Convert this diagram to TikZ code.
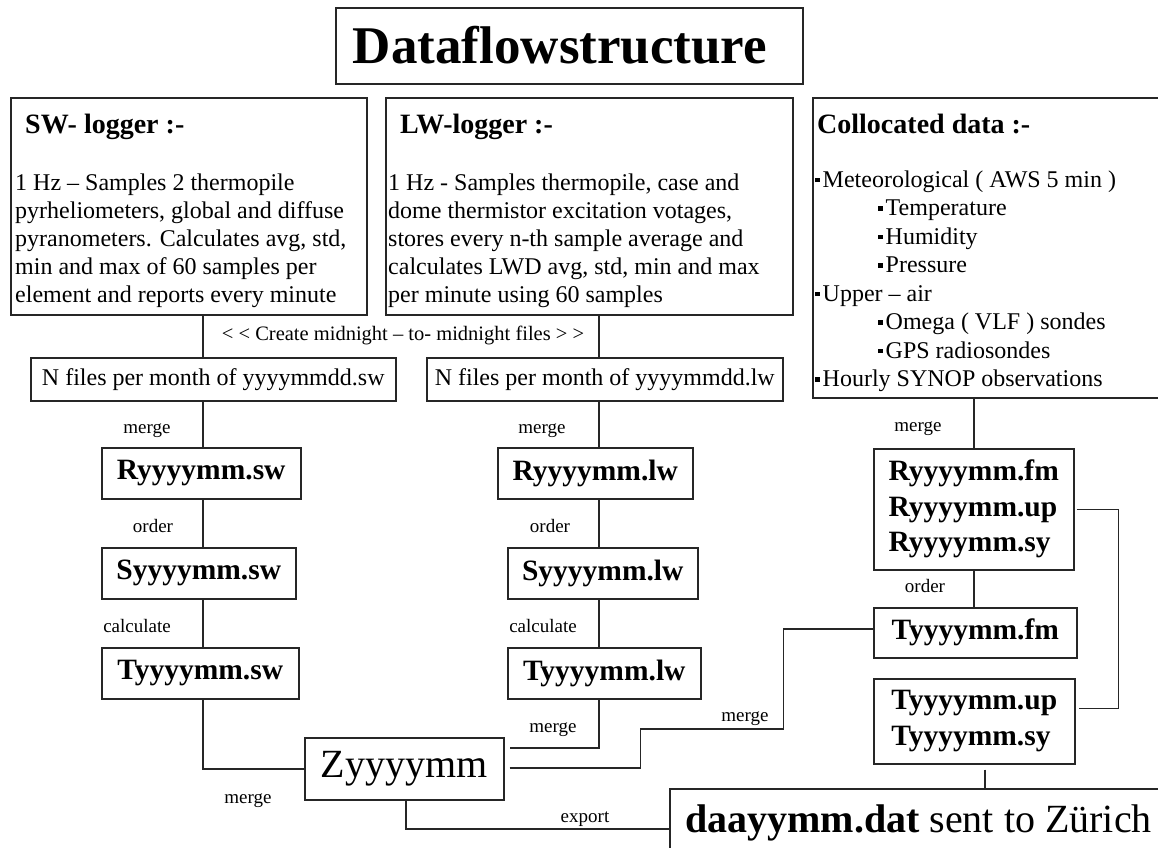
\documentclass[tikz,border=0pt]{standalone}
\usepackage{fontspec}
\setmainfont{Liberation Serif}
\usetikzlibrary{calc}
\newcommand\sqbul{\rule[5pt]{4.5pt}{4.5pt}\hspace{3pt}}
\begin{document}
\begin{tikzpicture}[x=1pt,y=-1pt,
 box/.style={draw=black!85, line width=1.5pt, inner sep=0, anchor=north west},
 conn/.style={draw=black!85, line width=1.5pt},
 txt/.style={inner sep=0, anchor=base west, align=left},
 lbl/.style={inner sep=0, anchor=base, font=\fontsize{19}{22}\selectfont},
 bodyf/.style={font=\fontsize{24}{28}\selectfont},
 headf/.style={font=\fontsize{28}{32}\selectfont\bfseries},
 fname/.style={font=\fontsize{29.5}{35.5}\selectfont\bfseries},
]
\useasboundingbox (0,0) rectangle (1158,847);
\fill[white] (0,0) rectangle (1158,847);

% title
\node[box, minimum width=467pt, minimum height=76pt] (title) at (335,7) {};
\node[inner sep=0, anchor=base, font=\fontsize{53}{60}\selectfont\bfseries] (titletxt) at (560,63) {Dataflowstructure};

% SW logger (multi-line nodes: base anchor = last line)
\node[box, minimum width=356pt, minimum height=217pt] (sw) at (10,97) {};
\node[txt, headf] (swh) at (25,133) {SW- logger :-};
\node[txt, bodyf] (swb) at (15,302) {1 Hz -- Samples 2 thermopile\\pyrheliometers, global and diffuse\\pyranometers. Calculates avg, std,\\min and max of 60 samples per\\element and reports every minute};

% LW logger
\node[box, minimum width=407pt, minimum height=217pt] (lw) at (385,97) {};
\node[txt, headf] (lwh) at (400,133) {LW-logger :-};
\node[txt, bodyf] (lwb) at (388,302) {1 Hz - Samples thermopile, case and\\dome thermistor excitation votages,\\stores every n-th sample average and\\calculates LWD avg, std, min and max\\per minute using 60 samples};

% Collocated
\node[box, minimum width=360pt, minimum height=300pt] (col) at (812,97) {};
\node[txt, headf] (colh) at (817,133) {Collocated data :-};
\node[txt, font=\fontsize{24}{28.5}\selectfont] (colb) at (815,386.5) {\sqbul Meteorological ( AWS 5 min )\\
\hspace{63pt}\sqbul Temperature\\
\hspace{63pt}\sqbul Humidity\\
\hspace{63pt}\sqbul Pressure\\
\sqbul Upper -- air\\
\hspace{63pt}\sqbul Omega ( VLF ) sondes\\
\hspace{63pt}\sqbul GPS radiosondes\\
\sqbul Hourly SYNOP observations};

% midnight label
\node[lbl, font=\fontsize{20.5}{24}\selectfont] (mid) at (403,340) {< < Create midnight -- to- midnight files > >};

% N files
\node[box, bodyf, minimum width=365pt, minimum height=43pt] (nsw) at (30,357) {N files per month of yyyymmdd.sw};
\node[box, bodyf, minimum width=356pt, minimum height=43pt] (nlw) at (426,357) {N files per month of yyyymmdd.lw};

% SW chain
\node[box, fname, minimum width=199pt, minimum height=51pt] (rsw) at (101,447) {Ryyyymm.sw};
\node[box, fname, minimum width=194pt, minimum height=51pt] (ssw) at (101,547) {Syyyymm.sw};
\node[box, fname, minimum width=197pt, minimum height=51pt] (tsw) at (101,647) {Tyyyymm.sw};

% LW chain
\node[box, fname, minimum width=195pt, minimum height=51pt] (rlw) at (497,447) {Ryyyymm.lw};
\node[box, fname, minimum width=190pt, minimum height=51pt] (slw) at (507,547) {Syyyymm.lw};
\node[box, fname, minimum width=193pt, minimum height=51pt] (tlw) at (507,647) {Tyyyymm.lw};

% right chain
\node[box, fname, align=left, minimum width=200pt, minimum height=121pt] (rr) at (873,448) {Ryyyymm.fm\\Ryyyymm.up\\Ryyyymm.sy};
\node[box, fname, minimum width=203pt, minimum height=50pt] (tfm) at (873,607) {Tyyyymm.fm\hspace{6pt}};
\node[box, fname, align=left, minimum width=201pt, minimum height=85pt] (tup) at (873,678) {Tyyyymm.up\\Tyyyymm.sy};

% Z and export
\node[box, font=\fontsize{40}{46}\selectfont, minimum width=199pt, minimum height=62pt] (z) at (304,737) {Zyyyymm};
\node[box, minimum width=520pt, minimum height=80pt] (daa) at (669,788) {};
\node[txt, font=\fontsize{40}{46}\selectfont] (daatxt) at (685,832) {\textbf{daayymm.dat} sent to Zürich};

% labels
\node[lbl] (l1) at (147,433) {merge};
\node[lbl] (l2) at (153,532) {order};
\node[lbl] (l3) at (137,632) {calculate};
\node[lbl] (l4) at (542,433) {merge};
\node[lbl] (l5) at (550,532) {order};
\node[lbl] (l6) at (543,632) {calculate};
\node[lbl] (l7) at (553,732) {merge};
\node[lbl] (l8) at (745,721) {merge};
\node[lbl] (l9) at (248,803) {merge};
\node[lbl] (l10) at (585,822) {export};
\node[lbl] (l11) at (918,431) {merge};
\node[lbl] (l12) at (925,592) {order};

% x positions of vertical connectors
\coordinate (xs) at (203,0);
\coordinate (xl) at (599,0);
\coordinate (xr) at (974,0);
\coordinate (xz) at (406,0);
\coordinate (xd) at (985,0);

\draw[conn] (xs |- sw.south) -- (xs |- nsw.north);
\draw[conn] (xl |- lw.south) -- (xl |- nlw.north);
\draw[conn] (xs |- nsw.south) -- (xs |- rsw.north);
\draw[conn] (xs |- rsw.south) -- (xs |- ssw.north);
\draw[conn] (xs |- ssw.south) -- (xs |- tsw.north);
\draw[conn] (xs |- tsw.south) |- (z.west);
\draw[conn] (xl |- nlw.south) -- (xl |- rlw.north);
\draw[conn] (xl |- rlw.south) -- (xl |- slw.north);
\draw[conn] (xl |- slw.south) -- (xl |- tlw.north);
\draw[conn] (xl |- tlw.south) |- ($(z.east)+(5,-21)$);
\draw[conn] ($(z.east)+(5,-1)$) -- ++(131,0) -- ++(0,-39) -- ++(143,0) |- ($(tfm.west)+(0,-4)$);
\draw[conn] (xr |- col.south) -- (xr |- rr.north);
\draw[conn] (xr |- rr.south) -- (xr |- tfm.north);
\draw[conn] ($(rr.east)+(2,0)$) -- ++(42,0) |- ($(tup.east)+(3,-13)$);
\draw[conn] ($(xd |- tup.south)+(0,5)$) -- (xd |- daa.north);
\draw[conn] (xz |- z.south) |- (daa.west);
\end{tikzpicture}
\end{document}
